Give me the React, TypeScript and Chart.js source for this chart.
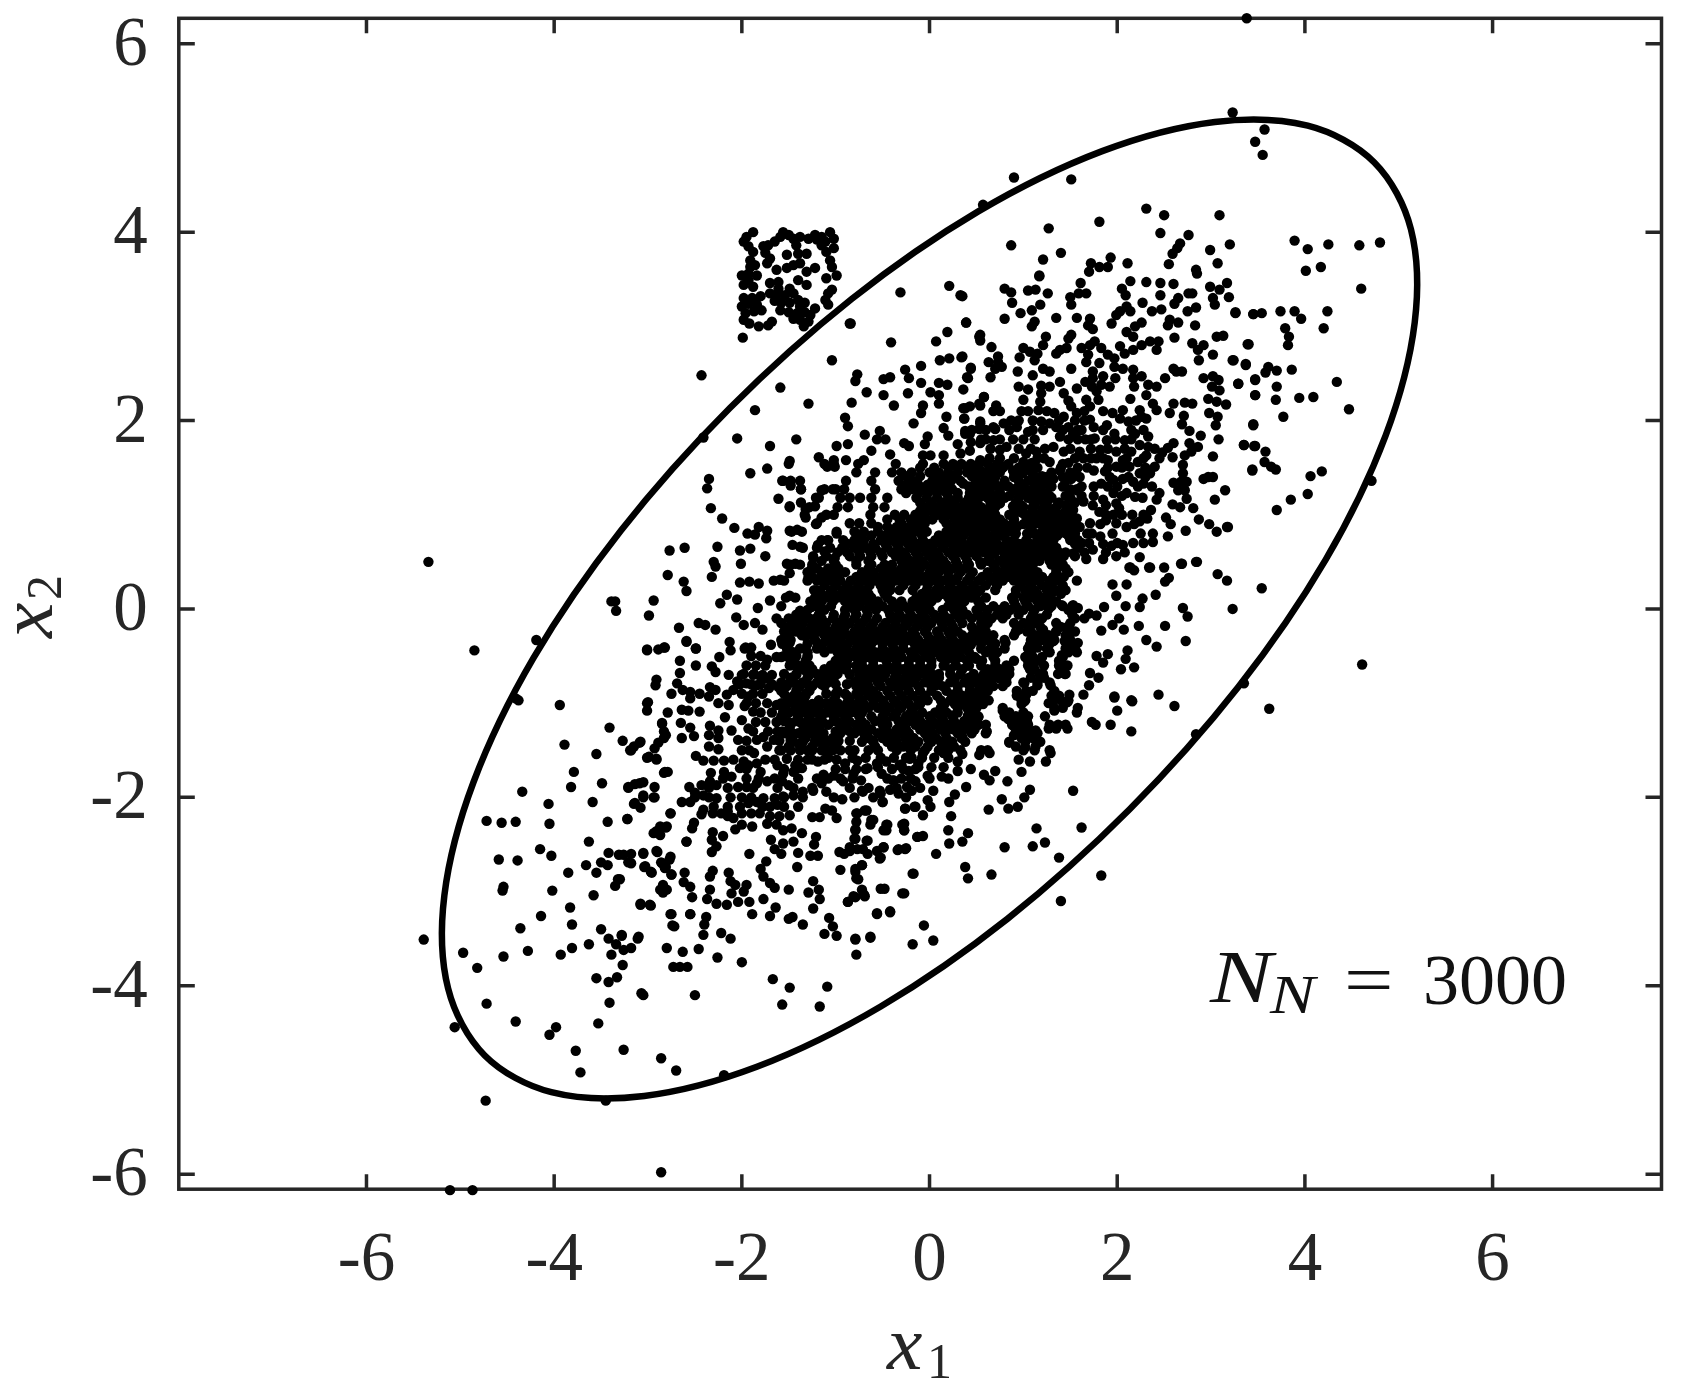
import { useEffect, useRef } from "react"
import { Chart, registerables } from "chart.js"

Chart.register(...registerables)

const xTicks = [-6, -4, -2, 0, 2, 4, 6]
const yTicks = [-6, -4, -2, 0, 2, 4, 6]

// the small square patch above the ellipse
const squareCloud = [
  [-1.88,4.00],[-1.95,3.95],[-1.98,3.90],[-1.93,3.85],[-1.88,3.79],[-1.77,3.85],[-1.72,3.86],[-1.65,3.90],[-1.59,3.95],[-1.56,4.0],[-1.5,3.97],[-1.45,3.93],[-1.38,3.95],[-1.42,3.86],[-1.29,3.93],[-1.22,3.97],[-1.15,3.95],[-1.06,4.0],[-1.02,3.93],[-1.15,3.86],[-1.1,3.79],[-1.02,3.83],[-1.11,3.90],[-1.2,3.92],
  [-1.75,3.78],[-1.7,3.72],[-1.73,3.67],[-1.91,3.7],[-1.91,3.63],[-1.86,3.65],[-1.52,3.76],[-1.4,3.77],[-1.31,3.77],[-1.38,3.67],[-1.45,3.65],[-1.52,3.62],[-1.63,3.6],[-1.22,3.62],[-1.31,3.58],[-1.06,3.7],[-1.04,3.63],[-.99,3.54],[-1.1,3.51],[-2.0,3.54],[-1.93,3.56],[-1.84,3.54],[-1.98,3.44],[-1.93,3.49],[-1.88,3.42],[-1.7,3.46],[-1.61,3.47],[-1.4,3.49],[-1.31,3.44],[-1.61,3.40],[-1.7,3.35],[-1.63,3.33],[-1.49,3.40],[-1.45,3.35],[-1.54,3.33],[-1.04,3.39],[-1.08,3.35],[-1.11,3.28],[-1.98,3.3],[-1.89,3.3],[-1.8,3.32],[-2.0,3.21],[-1.93,3.24],[-1.84,3.23],[-1.96,3.14],[-1.87,3.16],[-1.79,3.17],[-1.98,3.07],[-1.92,3.03],[-1.82,3.0],[-1.68,3.05],[-1.72,3.01],[-1.65,3.27],[-1.58,3.25],[-1.49,3.25],[-1.4,3.28],[-1.33,3.25],[-1.22,3.19],[-1.08,3.23],[-1.59,3.17],[-1.5,3.15],[-1.41,3.14],[-1.33,3.15],[-1.45,3.08],[-1.38,3.07],[-1.29,3.05],[-1.34,3.0],[-1.27,3.12],[-1.38,3.21],[-1.99,2.88],[-.85,3.03],
]

// upper left side of the cloud
const upperLeftCloud = [
  [-5.34,.50],[-4.85,-.44],[-4.19,-.33],[-4.41,-.95],[-3.35,.08],[-3.34,-.02],[-3.39,.08],[-2.94,.09],[-2.99,-.07],
  [-2.43,2.48],[-1.59,2.35],[-1.04,2.64],[-1.86,2.11],[-1.29,2.18],[-.83,2.19],[-2.05,1.81],[-2.41,1.82],[-1.70,1.73],[-1.42,1.80],[-.99,1.73],[-1.49,1.57],[-1.18,1.61],[-1.02,1.58],[-1.09,1.51],[-1.01,1.51],[-1.91,1.44],[-1.73,1.49],
  [-2.35,1.38],[-2.37,1.28],[-1.56,1.36],[-1.48,1.31],[-1.37,1.27],[-1.15,1.26],[-1.03,1.27],[-1.21,1.18],[-1.61,1.17],[-1.37,1.13],[-1.49,1.09],[-1.22,1.09],[-1.32,1.06],[-2.33,1.07],[-2.21,.96],[-1.32,.97],[-1.15,.97],[-1.21,.90],
  [-2.08,.86],[-1.82,.87],[-1.73,.83],[-1.94,.80],[-1.86,.79],[-1.74,.75],[-1.49,.83],[-1.41,.84],[-.99,.80],[-2.77,.62],[-2.61,.65],[-2.26,.66],[-2.02,.62],[-1.91,.64],[-1.46,.68],[-1.38,.66],[-1.19,.68],[-1.09,.73],[-1.12,.61],[-2.01,.48],[-1.75,.56],[-2.30,.50],[-2.28,.45],[-1.24,.54],[-1.01,.54],[-1.52,.48],[-1.43,.48],[-1.49,.38],[-2.79,.36],[-2.32,.34],[-2.62,.29],[-2.59,.19],[-1.26,.42],[-1.29,.34],[-1.18,.32],[-1.03,.41],[-2.02,.28],[-1.92,.29],[-1.82,.27],[-1.66,.30],[-1.59,.31],[-1.23,.20],[-1.01,.30],[-2.16,.15],[-2.05,.10],[-2.23,.06],[-1.70,.09],[-1.49,.14],[-1.22,.09],[-1.06,.16],[-1.26,.02],
  [-2.67,-.20],[-2.46,-.15],[-2.39,-.17],[-2.28,-.22],[-2.06,-.09],[-1.83,.01],[-1.98,-.17],[-1.86,-.15],[-1.78,-.22],[-1.63,-.10],[-1.50,-.10],[-1.38,-.02],[-1.21,-.10],[-2.59,-.34],[-2.13,-.35],[-2.49,-.42],[-3.01,-.43],[-2.83,-.41],[-1.96,-.41],[-1.69,-.38],[-1.49,-.36],[-1.32,-.29],[-1.12,-.22],[-1.01,-.36],
  [-.41,2.83],[.07,2.84],[.19,2.94],[.39,3.04],[.54,2.91],[.34,2.67],[.21,2.66],[.11,2.64],[-.09,2.58],[-.26,2.54],[-.22,2.45],[-.42,2.46],[-.49,2.44],[-.77,2.49],[-.79,2.42],[-.09,2.40],[.10,2.40],[.19,2.38],[.44,2.55],[.41,2.45],[.36,2.33],[-.67,2.30],[-.49,2.27],[-.23,2.29],[.01,2.30],[.10,2.27],[.58,2.25],[-.38,2.16],[.10,2.18],[-.07,2.16],[.38,2.13],[.53,2.18],[-.09,2.08],[.18,2.04],[.37,2.02],[-.17,1.97],[-.90,2.03],[-.87,1.94],[.54,1.99],[.53,1.91],[.15,1.92],[.20,1.84],[.38,1.89],[.70,1.91],[-.69,1.85],[-.53,1.89],[-.56,1.80],[-.47,1.80],[-.02,1.83],[-.05,1.75],[-.27,1.76],[-.22,1.73],[-.87,1.75],[.30,1.75],[.44,1.77],[.55,1.80],[-.62,1.68],[-.42,1.64],[-.07,1.63],[.01,1.63],[.15,1.63],[.33,1.65],[-.70,1.58],[-.76,1.54],[-.89,1.58],
]

// upper right side, top of the ellipse down to x2 = 0.5
const upperRightCloud = [
  [3.38,6.27],[3.23,5.27],[3.57,5.09],[3.47,4.96],[3.55,4.82],[.90,4.58],[1.51,4.56],[.57,4.29],[2.31,4.25],[2.50,4.18],[3.09,4.18],[1.81,4.11],[1.27,4.04],[2.46,3.99],[2.76,3.97],[3.89,3.91],[.87,3.86],[3.20,3.87],[2.67,3.88],[2.64,3.83],[2.99,3.81],[4.03,3.82],[4.25,3.87],[4.58,3.86],[4.80,3.89],[1.40,3.78],[2.59,3.77],[1.21,3.71],[1.93,3.73],[1.72,3.67],[1.81,3.63],[1.90,3.63],[2.11,3.67],[2.55,3.66],[3.07,3.67],[2.84,3.60],[4.01,3.59],[4.17,3.63],[-.31,3.36],[.21,3.43],[.33,3.33],[1.17,3.54],[4.60,3.40],[-.84,3.03],
  [3.74,3.16],[3.89,3.16],[3.96,3.08],[4.24,3.16],[3.54,3.14],[3.45,3.13],[3.26,3.14],[3.79,2.98],[4.20,2.98],[3.83,2.89],[3.82,2.80],[3.39,2.81],[3.23,2.64],[3.37,2.59],[3.61,2.57],[3.70,2.53],[3.86,2.54],[3.58,2.51],[3.47,2.44],[4.34,2.41],[3.29,2.39],[3.70,2.36],[3.47,2.27],[3.94,2.24],[4.09,2.25],[3.69,2.22],[4.47,2.12],[3.77,2.04],[3.45,1.95],[3.35,1.74],[3.46,1.73],[3.58,1.67],[3.57,1.56],[3.64,1.51],[3.69,1.48],[3.44,1.48],[4.18,1.46],[4.06,1.41],[4.71,1.36],[4.03,1.22],[3.85,1.16],[3.70,1.05],[3.17,.87],[3.54,.22],[3.07,.37],[3.17,.30],[3.23,.00],[4.61,-.59],[3.35,-.79],[2.73,-.34],[2.51,-.18],[2.42,-.40],[2.31,-.33],[2.70,.01],[2.75,-.08],
  [1.17,3.53],[1.61,3.46],[1.70,3.58],[.80,3.40],[.87,3.36],[1.05,3.38],[1.13,3.39],[1.26,3.35],[.35,3.32],[.88,3.25],[1.50,3.31],[1.59,3.35],[1.67,3.35],[1.51,3.23],[1.18,3.23],[1.09,3.17],[.97,3.14],[.80,3.08],[1.35,3.09],[1.57,3.09],[1.71,3.08],[1.69,3.01],[1.74,2.97],[.39,3.04],[1.12,3.05],[1.09,3.00],[.53,2.89],[.54,2.85],[1.51,2.91],[1.48,2.87],[1.24,2.89],[1.21,2.80],[.66,2.78],[1.00,2.77],[1.07,2.73],[1.15,2.71],[.96,2.67],[1.12,2.64],[1.39,2.75],[1.46,2.77],[1.35,2.71],[.35,2.68],[.73,2.68],[.63,2.62],[.73,2.62],[.77,2.57],[.70,2.55],[.44,2.56],[.65,2.46],[.40,2.46],[.94,2.52],[1.10,2.48],[1.21,2.55],[1.28,2.52],[1.51,2.55],
  [1.62,2.77],[1.71,2.80],[1.76,2.84],[1.83,2.77],[1.69,2.70],[1.67,2.62],[1.90,2.70],[1.97,2.66],[1.97,2.57],[2.06,2.55],[1.81,2.61],[1.74,2.52],[1.66,2.41],[1.74,2.45],[1.85,2.47],[1.98,2.45],[1.92,2.36],[1.78,2.31],[1.73,2.36],[1.83,2.38],[1.80,2.22],[1.67,2.22],[1.71,2.15],
  [2.14,3.48],[2.31,3.47],[2.46,3.46],[2.60,3.45],[2.05,3.40],[2.09,3.33],[2.46,3.33],[2.27,3.25],[2.10,3.21],[2.14,3.16],[2.03,3.16],[1.99,3.12],[2.37,3.16],[2.47,3.18],[2.65,3.30],[2.61,3.24],[2.76,3.35],[2.80,3.35],[2.85,3.56],[2.99,3.42],[3.09,3.39],[3.17,3.46],[3.19,3.31],[3.02,3.30],[3.04,3.23],[2.75,3.16],[2.84,3.20],[3.26,3.15],[3.45,3.13],[1.94,3.03],[2.26,3.04],[2.19,3.00],[2.56,3.07],[2.54,3.01],[2.65,3.04],[2.83,3.01],[2.10,2.94],[2.17,2.89],[2.61,2.88],[3.06,2.89],[3.13,2.90],[2.03,2.79],[2.08,2.71],[2.17,2.75],[2.26,2.80],[2.35,2.84],[2.44,2.84],[2.42,2.75],[2.80,2.82],[2.92,2.80],[2.86,2.75],[3.40,2.81],[3.02,2.70],[2.87,2.64],[3.24,2.64],[3.37,2.60],[2.60,2.55],[2.69,2.52],[2.63,2.52],[2.17,2.54],[2.26,2.47],[2.17,2.45],[2.18,2.36],[2.51,2.45],[2.42,2.36],[2.33,2.38],[2.31,2.27],[2.92,2.45],[3.02,2.47],[3.08,2.43],[3.47,2.43],[3.29,2.39],[3.01,2.36],[3.09,2.32],[3.47,2.27],[2.97,2.23],[3.06,2.20],[3.16,2.17],[2.14,2.23],[2.38,2.18],[2.42,2.11],[2.60,2.18],[2.56,2.08],[2.72,2.19],[2.80,2.18],[2.71,2.05],[2.69,1.96],[2.98,2.08],[3.07,2.04],[3.05,1.95],[3.45,1.96],[1.95,2.08],[2.06,2.11],[2.12,1.99],[2.03,2.02],[2.24,2.11],[2.26,2.04],[2.31,2.02],[2.77,1.89],[2.89,1.84],[3.08,1.80],[3.35,1.74],[3.47,1.73],[2.77,1.76],[2.86,1.72],[2.60,1.76],[2.54,1.71],[2.48,1.66],[2.59,1.61],[2.79,1.67],[2.72,1.63],[3.02,1.62],[2.70,1.53],[2.70,1.44],[3.44,1.47],[2.97,1.40],[3.02,1.40],[2.92,1.38],[2.60,1.34],[2.68,1.35],[2.74,1.35],[2.65,1.26],[2.72,1.26],[3.15,1.26],[3.04,1.16],[2.74,1.17],[2.45,1.23],[2.42,1.16],[2.59,1.11],[2.67,1.08],[2.81,1.07],[2.52,.97],[2.57,.90],[2.87,.95],[2.98,.90],[3.06,.82],[3.18,.87],[2.73,.83],[2.54,.77],[2.38,.80],[2.38,.71],[2.24,.55],[2.84,.50],[2.69,.48],[2.50,.44],[2.35,.44],[2.14,.44],
  [.95,2.36],[1.05,2.33],[1.19,2.37],[1.19,2.29],[1.18,2.20],[1.16,2.11],[1.28,2.36],[1.39,2.41],[1.43,2.29],[1.57,2.34],[1.48,2.21],[1.51,2.15],[1.57,2.08],[1.00,2.22],[.98,2.10],[.58,2.25],[.54,2.16],[.43,2.15],[.36,2.13],[.71,2.16],[.68,2.10],[.75,2.10],[.54,1.97],[.37,2.02],[.68,1.93],[.79,1.97],[.87,2.00],[.93,1.93],[.38,1.86],[.43,1.86],[1.05,1.88],[1.12,1.80],[1.21,1.90],[1.28,1.97],[1.33,2.08],[1.43,2.04],[1.35,1.93],[1.48,1.93],[1.19,1.99],[1.71,2.01],[1.75,1.93],[1.62,1.90],[1.53,1.86],[1.66,1.80],[1.76,1.81],[1.89,1.95],[1.97,1.86],[1.89,1.79],[2.08,1.79],[2.19,1.86],[2.33,1.83],[2.24,1.74],[2.33,1.72],[2.31,1.63],[2.40,1.51],[2.06,1.58],[1.99,1.67],[2.15,1.67],[2.22,1.56],[2.35,1.44],[2.24,1.44],[2.13,1.51],[1.99,1.51],[1.90,1.58],[1.82,1.69],[1.78,1.60],[1.87,1.46],[1.75,1.47],[1.83,1.33],[1.96,1.37],[2.06,1.38],[2.17,1.35],[2.28,1.33],[2.37,1.30],[2.10,1.23],[2.19,1.19],[2.27,1.18],[1.96,1.23],[1.85,1.16],[1.99,1.12],[2.02,1.07],[1.96,1.00],[2.16,1.00],[2.36,1.05],[2.32,.96],[2.24,.93],[2.10,.87],[1.99,.91],[1.88,.94],[1.81,1.03],[1.74,1.10],[1.64,1.14],[1.53,1.05],[1.71,.91],[1.57,.96],[1.46,.91],[1.35,.98],[1.37,1.12],[1.21,1.14],[1.10,1.15],[1.32,.91],
  [1.55,1.44],[1.51,1.38],[1.50,1.26],[1.57,1.26],[1.39,1.47],[1.32,1.38],[1.18,1.40],[1.18,1.28],[1.28,1.31],[1.48,1.55],[1.43,1.67],[1.60,1.67],[1.64,1.60],[1.28,1.56],[1.23,1.70],[1.32,1.72],[1.00,1.56],[1.03,1.65],[1.14,1.67],[1.09,1.55],[1.39,1.83],[.89,1.80],[.82,1.72],[.75,1.69],[.68,1.79],[.54,1.76],[.43,1.68],[.54,1.58],[.64,1.60],[.79,1.51],[.89,1.47],[.99,1.44],[.68,1.47],[.54,1.47],[.43,1.47],[.36,1.33],[.50,1.37],[.61,1.44],[.75,1.30],[.84,1.30],[.96,1.20],[.43,1.23],[.54,1.19],[.64,1.26],[.75,1.12],[.89,1.09],[.99,1.02],[1.18,.93],[1.09,.97],[.43,1.09],[.57,1.05],[.68,.98],[.79,.91],[.93,.87],[1.04,.80],[1.18,.80],[1.32,.73],[1.46,.80],[1.58,.73],[1.74,.63],[1.85,.69],[1.94,.67],[2.06,.68],[2.17,.70],[1.99,.56],[1.67,.53],[1.53,.59],[1.39,.52],[1.25,.59],[1.11,.50],[.96,.56],[.82,.50],[.68,.59],[.54,.50],[.39,.59],[.43,.84],[.57,.80],[.68,.77],[.93,.66],[.79,.66],[.54,.66],[.32,.77],[1.73,.80],[1.82,.77],[1.60,.87],[1.85,.53],
  [2.85,.50],[2.68,.48],[2.34,.44],[2.18,.41],[2.55,.33],[2.51,.29],[2.13,.44],[2.41,.15],[2.27,.11],[2.24,.02],[2.09,.03],[1.95,.26],[2.10,.26],[1.99,.14],[1.86,.02],[1.78,-.07],[2.02,-.10],[1.95,-.17],[1.83,-.23],[2.07,-.22],[2.23,-.18],[1.70,-.05],[1.58,.01],[1.41,.04],[1.53,.04],[1.65,-.10],[1.47,-.19],[1.55,-.24],[1.35,-.24],[1.32,-.34],[1.58,-.36],[1.44,-.34],[1.57,-.46],[1.41,-.49],[1.27,-.45],[1.78,-.50],[1.90,-.48],[2.11,-.44],[2.09,-.53],[1.85,-.57],[2.04,-.64],[2.18,-.62],[1.38,-.60],[1.44,-.69],[1.71,-.68],[1.80,-.73],[1.70,-.81],[1.64,-.91],[1.49,-.91],[2.44,-.91],[1.97,-.93],[2.15,-.97],[1.29,-.81],[1.15,-.81],[1.21,-.69],[1.07,-.64],[1.01,-.79],[1.03,-.91],[.93,-.92],[1.38,-.92],
]

// lower right side
const lowerRightCloud = [
  [3.62,-1.06],[2.61,-1.03],[2.15,-1.30],[2.16,-.98],[2.00,-1.08],[1.97,-.94],[1.93,-1.23],[1.77,-1.23],[1.73,-1.20],[1.57,-1.10],[1.47,-1.27],[1.35,-1.27],[1.27,-1.27],[1.33,-1.08],[1.27,-1.00],[1.47,-.99],[1.04,-1.20],[1.04,-1.29],[1.13,-1.29],[.98,-1.29],[.90,-1.34],[.78,-1.08],[.84,-1.17],[.90,-1.24],[1.01,-.98],[.61,-1.30],[.52,-1.15],[.41,-1.27],[.35,-1.36],[.41,-1.13],[.24,-1.27],[.24,-1.13],[.24,-1.41],[1.18,-1.41],[.85,-1.42],[1.13,-1.46],[1.02,-1.47],[1.29,-1.53],[1.24,-1.62],[1.07,-1.62],[.95,-1.60],[.98,-1.73],[.70,-1.72],[.58,-1.76],[.64,-1.82],[.83,-1.83],[.64,-1.53],[.53,-1.55],[.35,-1.54],[.30,-1.62],[.44,-1.70],[.30,-1.72],[.39,-1.89],[.13,-1.47],[.15,-1.53],[-.07,-1.53],[-.19,-1.58],[-.02,-1.77],[.13,-1.78],[-.22,-1.72],[-.30,-1.65],[1.53,-1.93],[1.07,-1.92],[1.01,-2.0],[.77,-2.02],[.84,-2.12],[.94,-2.10],[.63,-2.13],[.27,-1.97],[.21,-2.05],[.04,-1.93],[-.02,-2.03],[-.16,-2.10],[-.26,-2.12],[.01,-2.10],[-.07,-2.19],[.23,-2.20],[-.50,-2.05],[-.53,-1.93],[-.33,-1.96],[-.19,-1.93],[-.39,-1.82],[-.72,-1.93],[-.67,-2.14],[-.77,-2.17],[-.62,-2.24],[-.79,-2.34],[-.45,-2.29],[-.46,-2.35],[-.29,-2.29],[-.27,-2.35],[-.07,-2.41],[-.13,-2.42],[.20,-2.35],[.41,-2.38],[.35,-2.47],[.21,-2.49],[1.62,-2.32],[1.14,-2.33],[1.23,-2.48],[1.10,-2.52],[.80,-2.53],[.07,-2.60],[-.26,-2.55],[-.34,-2.56],[-.49,-2.53],[-.56,-2.57],[-.53,-2.65],[-.67,-2.46],[-.71,-2.55],[-.80,-2.44],[-.85,-2.57],[1.38,-2.64],[1.83,-2.83],[.38,-2.74],[.41,-2.86],[.66,-2.82],[-.17,-2.81],[-.72,-2.72],[-.79,-2.79],[-.76,-2.87],[-.52,-2.97],[-.29,-3.02],[-.70,-3.03],[-.79,-3.06],[-.87,-3.11],[1.40,-3.10],[-.56,-3.24],[-.42,-3.22],[-.06,-3.36],[.04,-3.52],[-.79,-3.51],[-.63,-3.49],[-.18,-3.56],[-.78,-3.67],[2.84,-1.33],
  [.95,-.22],[1.04,-.24],[1.21,-.22],[1.07,-.38],[1.15,-.41],[1.04,-.50],[1.13,-.55],[.85,-.64],[.90,-.55],[.75,-.74],[.60,-.69],[.81,-.36],[.55,-.31],[.67,-.45],[.44,-.38],[.50,-.53],[.30,-.38],[.41,-.60],[.27,-.74],[.07,-.81],[.44,-.91],[.24,-.91],[.64,-.83],[1.17,-.10],[1.27,-.00],
]

// lower left side
const lowerLeftCloud = [
  [-4.38,-.97],[-3.94,-1.02],[-3.41,-1.26],[-3.27,-1.40],[-3.09,-1.42],[-3.89,-1.44],[-3.18,-1.50],[-3.55,-1.54],[-3.79,-1.73],[-3.82,-1.89],[-3.49,-1.85],[-4.34,-1.94],[-3.59,-2.05],[-4.06,-2.07],[-4.05,-2.28],[-4.72,-2.25],[-4.56,-2.27],[-4.41,-2.26],[-3.43,-2.26],[-3.63,-2.47],[-4.15,-2.55],[-4.03,-2.62],[-4.59,-2.66],[-4.39,-2.67],[-3.42,-2.59],[-3.66,-2.72],[-3.50,-2.69],[-3.43,-2.72],[-3.55,-2.80],[-3.85,-2.80],[-3.32,-2.87],[-3.35,-2.94],[-4.54,-2.95],[-4.55,-2.99],[-4.02,-2.99],[-3.58,-3.04],[-3.83,-3.17],[-4.14,-3.26],[-3.81,-3.35],[-4.36,-3.39],[-3.50,-3.40],[-5.39,-3.51],[-3.42,-3.50],[-3.28,-3.47],[-3.63,-3.56],[-3.81,-3.60],[-4.97,-3.65],[-4.28,-3.63],[-4.54,-3.69],[-3.93,-3.67],[-3.34,-3.56],[-3.26,-3.62],[-3.18,-3.60],[-3.39,-3.67],[-3.27,-3.78],[-3.11,-3.50],[-4.82,-3.81],[-2.80,-3.60],[-2.63,-3.64],[-2.46,-3.61],[-2.26,-3.70],[-2.00,-3.75],[-2.73,-3.80],[-2.66,-3.80],[-2.58,-3.80],[-3.55,-3.92],[-3.33,-3.91],[-3.42,-3.96],[-1.67,-3.93],[-1.49,-4.02],[-1.09,-4.01],[-3.07,-4.08],[-3.05,-4.10],[-2.50,-4.10],[-3.41,-4.18],[-4.72,-4.19],[-1.57,-4.20],[-1.17,-4.22],[-4.41,-4.38],[-5.06,-4.44],[-3.53,-4.40],[-3.98,-4.44],[-4.05,-4.52],[-3.77,-4.69],[-3.26,-4.68],[-2.86,-4.77],[-2.70,-4.90],[-3.72,-4.92],[-2.19,-4.95],[-4.73,-5.22],[-3.45,-5.22],[-2.86,-5.98],[-5.11,-6.17],[-4.87,-6.17],
  [-3.01,-1.00],[-3.01,-1.08],[-2.79,-1.10],[-2.85,-1.22],[-2.81,-1.34],[-2.89,-1.42],[-3.01,-1.58],[-2.91,-1.60],[-3.21,-1.90],[-3.09,-1.85],[-2.93,-1.89],[-3.05,-2.0],[-2.93,-2.00],[-3.15,-2.07],[-3.08,-2.11],[-3.22,-2.23],[-2.82,-1.73],[-2.76,-2.17],[-2.91,-2.36],[-2.81,-2.32],[-3.05,-2.60],[-3.31,-2.61],[-3.18,-2.60],[-3.21,-2.69],[-2.91,-2.57],[-3.03,-2.73],[-2.96,-2.80],[-2.86,-2.69],[-2.76,-2.63],[-2.81,-2.74],[-2.75,-2.82],[-2.87,-2.98],[-2.80,-2.98],[-3.08,-3.14],[-2.97,-3.15],[-2.75,-3.24],[-2.72,-3.37],[-2.55,-3.24],[-2.59,-2.47],
  [-3.01,-.44],[-2.89,-.43],[-2.82,-.41],[-2.59,-.35],[-2.49,-.42],[-2.12,-.44],[-1.97,-.42],[-1.90,-.41],[-2.66,-.55],[-2.49,-.60],[-2.32,-.61],[-2.28,-.67],[-2.24,-.51],[-2.66,-.68],[-2.14,-.70],[-2.91,-.75],[-2.92,-.81],[-2.69,-.79],[-2.75,-.90],[-2.63,-.86],[-2.55,-.88],[-2.55,-.95],[-2.45,-.90],[-2.34,-.83],[-2.28,-.86],[-2.35,-.93],[-3.00,-.99],[-2.57,-1.08],[-2.64,-1.07],[-2.45,-1.09],[-2.25,-1.00],[-2.14,-1.02],[-2.16,-.91],[-2.09,-.86],[-1.97,-1.03],[-1.98,-.69],[-1.87,-.69],[-1.80,-.72],[-2.05,-.77],[-1.95,-.79],[-1.84,-.81],[-1.73,-.74],[-1.61,-.83],[-1.71,-.84],[-1.93,-.93],[-1.73,-1.00],[-1.63,-1.02],[-1.52,-.98],[-1.56,-1.09],[-1.73,-.54],[-1.63,-.51],[-1.49,-.45],[-1.43,-.58],[-1.33,-.65],[-1.49,-.60],
  [-2.85,-1.21],[-2.65,-1.21],[-2.55,-1.26],[-2.51,-1.35],[-2.64,-1.37],[-2.83,-1.30],[-2.83,-1.37],[-2.93,-1.48],[-2.91,-1.59],[-2.99,-1.57],[-3.08,-1.41],[-3.15,-1.46],[-3.19,-1.50],[-2.34,-1.24],[-2.35,-1.34],[-2.25,-1.29],[-2.25,-1.37],[-2.18,-1.15],[-2.11,-1.29],[-2.00,-1.18],[-2.04,-1.39],[-1.88,-1.09],[-1.93,-1.27],[-1.88,-1.30],[-1.77,-1.36],[-1.84,-1.39],[-1.57,-1.30],[-1.66,-1.39],[-1.73,-1.46],[-2.35,-1.46],[-2.25,-1.49],[-2.49,-1.56],[-2.41,-1.61],[-2.30,-1.61],[-2.19,-1.61],[-2.09,-1.60],[-1.98,-1.62],[-1.87,-1.53],[-1.84,-1.64],
  [-1.30,-1.60],[-1.19,-1.62],[-1.08,-1.58],[-.99,-1.60],[-.90,-1.64],[-.77,-1.61],[-.66,-1.69],[-.56,-1.64],[-.46,-1.62],[-.32,-1.66],[-.21,-1.59],[-.12,-1.64],[-2.83,-1.74],[-2.79,-1.73],[-2.33,-1.74],[-2.19,-1.73],[-2.11,-1.78],[-2.02,-1.69],[-1.93,-1.66],[-2.04,-1.89],[-1.95,-1.89],[-1.80,-1.73],[-1.84,-1.85],[-1.73,-1.83],[-1.62,-1.66],[-1.52,-1.59],[-1.43,-1.66],[-1.36,-1.69],[-1.56,-1.75],[-1.45,-1.73],[-1.57,-1.83],[-1.50,-1.87],[-1.13,-1.76],[-1.02,-1.77],[-.92,-1.83],[-.81,-1.75],[-.73,-1.82],[-.51,-1.75],[-.38,-1.82],[-.24,-1.89],[-.15,-1.83],[-.42,-1.92],[-.52,-1.96],[-.71,-1.94],[-1.15,-1.85],[-1.10,-1.94],[-1.02,-2.0],[-.93,-2.02],[-1.24,-1.93],[-1.35,-1.94],[-3.21,-1.89],[-3.14,-1.86],[-3.05,-1.84],[-3.05,-1.98],[-2.94,-2.00],[-3.14,-2.06],
  [-2.56,-1.89],[-2.43,-1.87],[-2.34,-1.83],[-2.27,-1.87],[-2.50,-1.95],[-2.41,-1.98],[-2.64,-2.05],[-2.55,-2.05],[-2.27,-2.01],[-2.12,-2.00],[-2.02,-2.10],[-1.93,-2.06],[-1.84,-2.05],[-1.65,-2.01],[-1.56,-1.99],[-1.45,-1.98],[-1.77,-2.01],[-1.90,-2.17],[-1.81,-2.17],[-1.70,-2.10],[-1.62,-2.08],[-2.41,-2.13],[-2.43,-2.18],[-2.31,-2.17],[-2.22,-2.17],[-2.15,-2.15],[-2.09,-2.22],[-2.00,-2.17],[-1.49,-2.19],[-1.11,-2.12],[-1.04,-2.14],[-.99,-2.22],[-1.25,-2.21],[-1.17,-2.21],[-.69,-2.14],[-.78,-2.17],[-.50,-2.05],[-.26,-2.12],[-.15,-2.10],
  [-2.76,-2.17],[-3.22,-2.23],[-2.51,-2.27],[-2.53,-2.33],[-2.07,-2.34],[-2.00,-2.29],[-1.89,-2.31],[-1.73,-2.28],[-1.63,-2.29],[-1.56,-2.35],[-1.47,-2.33],[-1.36,-2.38],[-.60,-2.24],[-.78,-2.26],[-.79,-2.35],[-.63,-2.29],[-.46,-2.29],[-.49,-2.35],[-.27,-2.28],[-.27,-2.35],[-.13,-2.42],[-2.87,-2.31],[-2.80,-2.31],[-2.94,-2.38],[-2.87,-2.40],[-2.59,-2.47],[-2.31,-2.37],[-2.32,-2.45],[-2.20,-2.41],[-2.27,-2.52],[-2.32,-2.58],[-1.69,-2.45],[-1.56,-2.49],[-1.45,-2.47],[-1.65,-2.55],[-1.58,-2.60],[-1.40,-2.59],[-1.21,-2.42],[-1.23,-2.50],[-1.27,-2.62],[-1.19,-2.62],[-.79,-2.44],[-.66,-2.46],[-.85,-2.53],[-.96,-2.58],[-.91,-2.60],[-.77,-2.55],[-.66,-2.60],[-.49,-2.53],[-.52,-2.64],[-.33,-2.55],[-.25,-2.54],
  [-1.92,-2.60],[-3.05,-2.59],[-3.26,-2.61],[-3.18,-2.70],[-2.90,-2.58],[-2.77,-2.66],[-2.85,-2.70],[-2.82,-2.75],[-3.04,-2.74],[-2.97,-2.79],[-2.75,-2.82],[-1.74,-2.68],[-1.80,-2.76],[-1.77,-2.84],[-1.70,-2.91],[-1.65,-2.96],[-1.41,-2.74],[-.95,-2.77],[-.72,-2.72],[-.79,-2.76],[-.78,-2.86],[-.18,-2.81],[-2.61,-2.80],[-2.62,-2.90],[-2.55,-2.95],[-2.31,-2.78],[-2.34,-2.84],[-2.14,-2.80],[-2.12,-2.89],[-2.07,-2.93],[-1.95,-2.93],[-1.98,-3.00],[-2.84,-2.93],[-2.84,-3.01],[-2.34,-2.98],[-2.11,-3.02],[-1.50,-2.98],[-1.24,-2.89],[-1.29,-3.01],[-1.18,-2.98],[-.48,-2.97],[-.27,-3.02],[-.72,-2.98],[-.69,-3.05],[-.81,-3.05],[-.87,-3.11],[-3.30,-2.87],
  [-3.08,-3.13],[-2.98,-3.14],[-2.53,-3.06],[-2.37,-3.08],[-2.27,-3.13],[-2.16,-3.14],[-2.04,-3.11],[-1.92,-3.11],[-1.77,-3.08],[-1.17,-3.08],[-1.24,-3.18],[-1.64,-3.17],[-1.70,-3.26],[-1.89,-3.24],[-2.55,-3.24],[-2.76,-3.24],[-2.38,-3.27],[-.56,-3.23],[-.42,-3.21],[-2.74,-3.36],[-2.40,-3.35],[-1.50,-3.29],[-1.46,-3.27],[-1.35,-3.35],[-1.07,-3.28],[-1.03,-3.37],[-1.12,-3.45],[-.99,-3.47],[-.79,-3.50],[-.63,-3.48],[-3.28,-3.46],[-3.10,-3.48],[-2.41,-3.46],[-2.22,-3.44],[-2.12,-3.50],
]

// dense middle, read row by row: [x2, x1, x1, ...]
const coreRows = [
  [1.54,-1.50,-1.12,-1.02,-.36,-.07,.15,.25,.34,.44,.53,.62,.72,.84,1.00,1.42],
  [1.45,-.78,-.58,-.40,-.30,-.19,0,.1,.2,.3,.4,.5,.6,.75,.9,1.0,1.09,1.3,1.5],
  [1.36,-1.57,-1.48,-1.38,-.89,-.62,-.33,-.18,.03,.13,.23,.33,.50,.62,.80,.95,1.05,1.15,1.25,1.45],
  [1.27,-1.37,-1.12,-1.0,-.91,-.58,-.30,-.2,-.07,.03,.13,.24,.44,.55,.75,.90,1.02,1.1,1.5,1.57],
  [1.18,-1.18,-.95,-.85,-.74,-.62,-.45,-.14,-.03,.08,.2,.3,.42,.5,.62,.7,.8,.95,1.05,1.18,1.3,1.5],
  [1.08,-1.49,-1.28,-.98,-.87,-.6,-.48,-.05,.08,.2,.32,.45,.55,.7,.9,1.0,1.1,1.22,1.35,1.5],
  [1.0,-1.33,-1.02,-1.1,-.63,-.37,-.27,-.15,-.05,.08,.2,.32,.42,.58,.7,.85,1.02,1.15,1.27,1.4,1.5],
  [.91,-1.2,-.85,-.62,-.75,-.3,-.18,-.05,.18,.33,.45,.55,.67,.78,.9,1.02,1.15,1.3,1.42,1.55],
  [.82,-1.47,-1.36,-.99,-.8,-.7,-.55,-.4,-.27,-.15,-.03,.18,.3,.42,.55,.7,.78,.88,1.1,1.2,1.3,1.42,1.53],
  [.73,-1.15,-1.08,-.92,-.8,-.7,-.52,-.4,-.28,-.18,-.07,.06,.17,.3,.45,.55,.67,.82,.9,1.03,1.15,1.25,1.5,1.58],
  [.65,-1.35,-1.2,-1.06,-.93,-.8,-.68,-.58,-.45,-.33,-.2,-.08,.03,.15,.28,.4,.52,.65,.77,.9,1.02,1.12,1.22,1.35,1.58],
  [.56,-1.24,-1.1,-.85,-.74,-.62,-.5,-.36,-.25,-.12,0,.1,.25,.38,.5,.65,.8,.9,1.0,1.1,1.2,1.32,1.43,1.55],
  [.47,-1.48,-1.38,-1.25,-1.0,-.78,-.62,-.48,-.4,-.27,-.16,-.05,.07,.18,.3,.42,.55,.68,.8,.92,1.02,1.1,1.3,1.42],
  [.39,-1.3,-1.15,-1.02,-.9,-.72,-.6,-.47,-.35,-.25,-.12,0,.1,.2,.33,.46,.62,.76,.9,1.02,1.15,1.35,1.48],
  [.30,-1.55,-1.3,-1.2,-1.05,-.95,-.84,-.7,-.57,-.47,-.36,-.22,-.1,.03,.15,.27,.4,.52,.65,.78,.9,1.03,1.15,1.28,1.38,1.57],
  [.20,-1.2,-1.05,-.93,-.82,-.7,-.5,-.42,-.32,-.18,-.03,.07,.18,.3,.42,.54,.7,.92,1.02,1.12,1.25,1.35,1.45],
  [.12,-1.53,-1.43,-1.22,-1.1,-.98,-.85,-.72,-.62,-.45,-.14,-.05,.08,.2,.3,.45,.6,.88,1.0,1.1,1.2,1.27],
  [.03,-1.58,-1.2,-1.05,-.85,-.75,-.62,-.5,-.38,-.27,-.15,-.05,.2,.32,.55,.68,.8,.92,1.05,1.18,1.3,1.42,1.52],
  [-.06,-1.42,-1.32,-1.18,-1.02,-.9,-.78,-.66,-.42,-.32,-.2,-.08,.05,.15,.28,.4,.52,.6,.72,.82,.95,1.1,1.25,1.52],
  [-.15,-1.58,-1.45,-1.35,-1.22,-1.1,-.98,-.85,-.72,-.6,-.47,-.36,-.23,-.1,.02,.13,.23,.35,.55,.62,.9,1.0,1.12,1.35,1.5],
  [-.24,-1.55,-1.42,-1.3,-1.18,-1.05,-.95,-.8,-.68,-.55,-.42,-.32,-.18,-.05,.08,.2,.3,.48,.6,.92,1.08,1.2,1.35,1.52],
  [-.33,-1.58,-1.48,-1.22,-1.08,-.95,-.8,-.68,-.58,-.45,-.33,-.22,-.12,.02,.13,.25,.38,.5,.62,.8,1.08,1.2,1.33,1.5],
  [-.42,-1.52,-1.38,-1.2,-1.05,-.93,-.78,-.65,-.5,-.38,-.28,-.12,0,.12,.22,.35,.55,.65,.8,1.05,1.25,1.45,1.55],
  [-.51,-1.58,-1.45,-1.3,-.95,-.78,-.65,-.52,-.4,-.3,-.15,-.02,.12,.22,.33,.48,.68,1.02,1.1,1.2,1.42],
  [-.6,-1.3,-1.05,-.95,-.88,-.72,-.6,-.45,-.35,-.22,-.1,.02,.15,.28,.42,.55,.7,.82,1.05,1.22,1.42,1.47],
  [-.69,-1.55,-1.42,-1.2,-1.08,-.98,-.85,-.7,-.58,-.47,-.35,-.22,-.1,.02,.1,.22,.33,.47,.58,.7,.82,.85,1.17,1.37,1.45],
  [-.78,-1.58,-1.45,-1.35,-1.2,-1.08,-.8,-.68,-.55,-.42,-.3,-.18,-.05,.05,.22,.37,.5,.62,.82,1.0,1.15,1.28],
  [-.87,-1.58,-1.42,-1.28,-.98,-.72,-.6,-.45,-.33,-.22,-.1,.02,.18,.3,.43,.52,.62,.93,1.03,1.1,1.33],
  [-.97,-1.5,-1.38,-1.18,-1.02,-.85,-.72,-.6,-.5,-.38,-.25,-.12,-.02,.12,.22,.3,.42,.52,.63,.98,1.02,1.32,1.4,1.48],
  [-1.05,-1.55,-1.43,-1.3,-1.18,-1.05,-.92,-.78,-.65,-.55,-.43,-.3,-.17,.12,.3,.4,.5,.78,1.33,1.42,1.58],
  [-1.14,-1.58,-1.4,-1.28,-1.15,-1.02,-.9,-.75,-.62,-.5,-.38,-.25,-.12,0,.12,.25,.42,.52,.8,.92,1.05,1.23],
  [-1.23,-1.48,-1.35,-1.22,-1.08,-.95,-.78,-.68,-.5,-.45,-.28,-.15,-.05,.08,.2,.3,.4,.52,.6,.88,.95,1.05,1.28,1.37,1.45],
  [-1.32,-1.55,-1.4,-1.25,-1.13,-.95,-.8,-.7,-.55,-.42,-.3,-.22,-.05,.03,.17,.3,.45,.6,.95,1.05,1.15],
  [-1.41,-1.45,-1.35,-1.2,-1.08,-.98,-.72,-.6,-.45,-.35,-.22,-.12,.02,.12,.22,.38,.85,1.02,1.15],
  [-1.5,-1.58,-1.3,-1.15,-1.03,-.85,-.55,-.35,-.2,-.05,.1,.2,.33,.55,.62,1.0,1.12,1.28],
]

// second pass over the dense middle, between the rows above, keeping the holes open
const coreGapRows = [
  [1.50,-.1,.05,.2,.3,.4,.5,.65,.78,.95],
  [1.41,-.25,-.1,.08,.18,.28,.45,.56,.68,1.12,1.2],
  [1.32,-.25,-.12,-.02,.08,.18,.48,.58,.7,1.0,1.12,1.2],
  [1.23,-.25,-.12,-.02,.08,.18,.3,.48,.6,.75,.95,1.05,1.16,1.25],
  [1.13,-.1,.02,.14,.26,.38,.5,.65,.75,.92,1.12,1.25,1.38,1.55],
  [1.04,-.1,.03,.15,.27,.38,.5,.63,.97,1.1,1.2,1.3,1.45],
  [.95,-.45,-.32,-.2,-.1,.03,.15,.27,.38,.5,.63,.75,.9,1.08,1.2,1.35,1.5],
  [.87,-.55,-.45,-.35,-.22,-.1,.26,.38,.5,.62,.75,.85,1.08,1.22,1.35,1.48],
  [.78,-.75,-.62,-.47,-.33,-.2,-.08,.1,.24,.36,.48,.62,.75,1.15,1.25,1.36,1.48],
  [.69,-.87,-.75,-.6,-.47,-.35,-.23,-.12,0,.12,.24,.36,.5,.6,.72,.86,.96,1.08,1.2,1.3,1.55],
  [.60,-.98,-.88,-.75,-.63,-.52,-.4,-.28,-.15,-.03,.08,.2,.32,.45,.58,.7,.83,.95,1.05,1.15,1.27,1.38],
  [.51,-1.15,-1.02,-.78,-.65,-.3,-.2,-.08,.04,.15,.28,.4,.62,.74,.86,.97,1.06,1.17,1.28,1.38],
  [.43,-1.2,-1.08,-.97,-.65,-.52,-.42,-.3,-.2,-.1,.02,.14,.25,.38,.7,.84,.95,1.08,1.35,1.45],
  [.34,-1.25,-1.1,-.98,-.78,-.65,-.52,-.41,-.3,-.17,-.05,.08,.2,.3,.43,.56,.7,.84,.96,1.08,1.2,1.32,1.43],
  [.25,-1.12,-1,-.88,-.76,-.64,-.52,-.42,-.28,-.15,-.02,.1,.22,.35,.47,.6,.72,.97,1.08,1.2,1.3,1.42],
  [.16,-1.15,-1.02,-.9,-.78,-.65,-.48,-.08,.02,.14,.25,.36,.5,.92,1.05,1.15,1.3,1.4],
  [.08,-1.27,-1.15,-1.03,-.9,-.78,-.67,-.55,-.4,-.3,-.18,-.08,.02,.25,.37,.52,.9,1.02,1.15,1.25,1.35],
  [-.01,-1.3,-1.12,-.9,-.8,-.67,-.57,-.44,-.33,-.22,-.1,0,.14,.26,.35,.5,.62,.74,.86,1,1.12,1.48],
  [-.10,-1.4,-1.28,-1.15,-1.03,-.92,-.8,-.68,-.56,-.4,-.28,-.16,-.04,.08,.2,.32,.45,.55,.66,.78,1.08,1.2,1.55],
  [-.19,-1.5,-1.38,-1.26,-1.14,-1,-.9,-.76,-.63,-.5,-.38,-.27,-.14,-.02,.14,.25,.45,.55,.95,1.06,1.18,1.4],
  [-.28,-1.5,-1.36,-1.24,-1.12,-1,-.87,-.74,-.62,-.5,-.38,-.27,-.15,-.02,.1,.22,.35,.45,.56,.68,.9,1.15,1.27,1.45],
  [-.37,-1.57,-1.3,-1.14,-1,-.87,-.72,-.62,-.5,-.4,-.28,-.16,-.05,.08,.18,.3,.44,.55,.7,1.12,1.28,1.5],
  [-.46,-1.45,-1.3,-1.12,-.98,-.85,-.72,-.58,-.45,-.33,-.2,-.06,.06,.17,.28,.42,.6,.72,1.08,1.28,1.48],
  [-.55,-1.48,-1.32,-1.0,-.88,-.72,-.6,-.46,-.35,-.22,-.1,.02,.17,.27,.4,.56,.7,1.05,1.15,1.38],
  [-.64,-1.4,-1.25,-1.12,-1.02,-.9,-.77,-.64,-.52,-.4,-.28,-.15,-.03,.22,.35,.62,.75,1.12,1.42],
  [-.73,-1.48,-1.3,-1.12,-1.02,-.75,-.62,-.5,-.37,-.26,-.14,-.02,.1,.25,.42,.55,.68,.82,1.08,1.22],
  [-.82,-1.52,-1.38,-1.25,-1.12,-.78,-.65,-.52,-.38,-.25,-.12,.02,.14,.3,.43,.56,.68,.78],
  [-.92,-1.45,-1.32,-1.0,-.88,-.76,-.65,-.55,-.42,-.3,-.18,-.05,.08,.24,.35,.47,.58,1.0,1.3],
  [-1.01,-1.52,-1.38,-1.25,-1.1,-.98,-.85,-.7,-.6,-.48,-.34,-.22,-.1,.16,.27,.36,.47,.57,.98],
  [-1.10,-1.5,-1.35,-1.22,-1.1,-.97,-.84,-.72,-.47,-.35,-.2,-.08,.06,.18,.3,.46,.85,1.0],
  [-1.19,-1.55,-1.42,-1.3,-1.18,-1.02,-.88,-.73,-.58,-.46,-.33,-.2,-.1,.03,.15,.26,.37,.46,.9,1.0],
  [-1.28,-1.5,-1.3,-1.17,-.9,-.75,-.62,-.48,-.35,-.25,-.1,0,.12,.26,.36,.48,.92,1.02],
  [-1.37,-1.48,-1.32,-1.18,-1.03,-.65,-.5,-.38,-.26,-.17,-.02,.07,.18,.34,.98,1.1],
  [-1.46,-1.5,-1.38,-1.25,-1.12,-1,-.58,-.4,-.28,-.15,-.02,.14,.26,.92],
]

// the darker arm of the band toward the lower left
const lowerBandRows = [
  [-.5,-1.9,-1.8,-1.55,-1.42,-1.3,-.9,-.8],
  [-.6,-1.95,-1.85,-1.75,-1.4,-1.28,-.88,-.78],
  [-.7,-2.0,-1.88,-1.78,-1.68,-1.42,-1.28,-1.16,-1.08,-.85,-.74],
  [-.8,-2.02,-1.9,-1.8,-1.68,-1.55,-1.42,-1.3,-1.15,-1.0,-.88,-.76],
  [-.9,-2.0,-1.88,-1.78,-1.55,-1.42,-1.32,-1.1,-1.0,-.9,-.78],
  [-1.0,-1.95,-1.85,-1.58,-1.45,-1.33,-1.2,-1.1,-.98,-.88,-.76],
  [-1.1,-1.8,-1.68,-1.42,-1.3,-1.18,-1.05,-.95,-.85,-.75],
  [-1.2,-1.85,-1.75,-1.63,-1.5,-1.38,-1.25,-1.14,-.98,-.85,-.72],
  [-1.3,-1.72,-1.62,-1.48,-1.35,-1.22,-1.0,-.85,-.68],
  [-1.4,-1.95,-1.6,-1.48,-1.35,-1.22,-1.1,-.97,-.85,-.6],
  [-1.5,-2.0,-1.92,-1.6,-1.48,-1.38,-1.25,-1.1,-.95,-.8,-.65],
  [-1.58,-.82,-.68,-.52,-.38,-.25,-.08,.05,.2],
  [-1.6,-1.75,-1.65,-1.4,-1.25,-1.12],
  [-1.68,-.55,-.12,.02,.15],
  [-1.7,-1.95,-1.55,-1.42,-1.0,-.9,-.78,-.68,-.4,-.28,-.15],
  [-1.8,-2.2,-1.95,-1.82,-1.65,-1.4,-1.2,-1.08,-.95,-.82,-.45,-.3,-.2,0,.2],
  [-1.9,-2.35,-2.15,-1.88,-1.62,-1.45,-1.25,-.85,-.65,-.35,-.1],
  [-2.0,-2.5,-2.35,-2.0,-1.9,-1.55,-1.35,-.8,-.6,-.25],
  [-2.1,-2.3,-2.15,-1.78,-1.55,-1.4],
  [-2.2,-2.15,-1.7,-1.6],
]

// the darker arm of the band toward the upper right
const upperBandRows = [
  [2.1,1.05,1.25,1.65,1.85],
  [2.0,.95,1.1,1.38,1.55,1.65,2.2],
  [1.9,.45,.6,.85,1.1,1.42,1.58,1.85,2.15,2.28],
  [1.8,.6,.75,1.0,1.48,1.58,1.72,1.98,2.15],
  [1.7,.65,.95,1.08,1.5,1.72,1.9,2.08,2.4],
  [1.6,.75,.9,1.15,1.22,1.55,1.72,1.85,2.1,2.28,2.45],
  [1.5,.45,.65,1.05,1.15,1.4,1.58,1.68,1.9,2.05,2.3],
  [1.4,.7,.9,1.25,1.42,1.6,1.92,2.12,2.3],
  [1.3,.42,.55,.66,.95,1.3,1.42,1.62,1.75,1.9,2.0,2.22],
  [1.2,.7,.85,1.1,1.28,1.45,1.62,1.75,2.05],
  [1.1,.52,.65,.98,1.12,1.25,1.45,1.88],
  [1.0,.45,.6,.9,1.02,1.25,1.45,1.88,2.05,2.28],
  [.9,.5,.62,.88,1.0,1.25,1.82,2.18],
  [.8,.34,.8,.92,1.1,1.28,1.38,1.55,1.68,1.95,2.25],
  [.7,.45,.62,.85,1.05,1.2,1.62,1.7,2.0,2.28],
  [.6,.5,.8,1.05,1.15,1.45,1.65,1.88,2.08],
]

// ellipse outline; one extra point each end only steers the curve at the seam
const ellipseX = [5.13,4.74,4.03,3.04,1.84,.52,-.83,-2.13,-3.29,-4.22,-4.86,-5.17,-5.13,-4.74,-4.03,-3.04,-1.84,-.52,.83,2.13,3.29,4.22,4.86,5.17,5.13,4.74,4.03]
const ellipseY = [4.03,4.74,5.13,5.17,4.86,4.22,3.29,2.13,.83,-.52,-1.84,-3.04,-4.03,-4.74,-5.13,-5.17,-4.86,-4.22,-3.29,-2.13,-.83,.52,1.84,3.04,4.03,4.74,5.13]

const ink = "#262626"
const serif = '"Liberation Serif"'

const frameTicks = {
  id: "frameTicks",
  beforeDatasetsDraw(chart: any) {
    const { ctx, chartArea: a, scales } = chart
    ctx.save()
    ctx.strokeStyle = ink
    ctx.lineWidth = 3.5
    ctx.strokeRect(a.left, a.top, a.right - a.left, a.bottom - a.top)
    ctx.beginPath()
    xTicks.forEach((v) => {
      const px = scales.x.getPixelForValue(v)
      ctx.moveTo(px, a.top)
      ctx.lineTo(px, a.top + 15)
      ctx.moveTo(px, a.bottom)
      ctx.lineTo(px, a.bottom - 15)
    })
    yTicks.forEach((v) => {
      const py = scales.y.getPixelForValue(v)
      ctx.moveTo(a.left, py)
      ctx.lineTo(a.left + 16, py)
      ctx.moveTo(a.right, py)
      ctx.lineTo(a.right - 16, py)
    })
    ctx.stroke()
    ctx.restore()
  },
}

// stretched glyphs stand in for the wider latex math letters
function stretched(ctx: any, text: string, x: number, y: number, font: string, sx: number) {
  ctx.save()
  ctx.font = font
  ctx.translate(x, y)
  ctx.scale(sx, 1)
  ctx.fillText(text, 0, 0)
  ctx.restore()
}

const mathLabels = {
  id: "mathLabels",
  afterDraw(chart: any) {
    const { ctx } = chart
    ctx.save()
    ctx.fillStyle = ink
    ctx.textAlign = "left"
    ctx.textBaseline = "alphabetic"
    stretched(ctx, "x", 887, 1369, `italic 76px ${serif}`, 1.05)
    stretched(ctx, "1", 927, 1378, `50px ${serif}`, 1)

    ctx.translate(52, 638)
    ctx.rotate(-Math.PI / 2)
    stretched(ctx, "x", 0, 0, `italic 76px ${serif}`, 1.05)
    stretched(ctx, "2", 38, 9, `50px ${serif}`, 1)
    ctx.restore()

    ctx.save()
    ctx.fillStyle = "#111111"
    ctx.textAlign = "left"
    ctx.textBaseline = "alphabetic"
    stretched(ctx, "N", 1210, 1002, `italic 73px ${serif}`, 1.28)
    stretched(ctx, "N", 1270, 1013, `italic 54px ${serif}`, 1.25)
    stretched(ctx, "=", 1344, 1004, `72px ${serif}`, 1.22)
    stretched(ctx, "3000", 1423, 1004, `72px ${serif}`, 1)
    ctx.restore()
  },
}

export default function App() {
  const canvasRef = useRef<HTMLCanvasElement>(null)

  useEffect(() => {
    if (!canvasRef.current) return

    const rowPoints = [...coreRows, ...coreGapRows, ...lowerBandRows, ...upperBandRows].flatMap(([y, ...xs]) => xs.map((x) => ({ x, y })))
    const listPoints = [...squareCloud, ...upperLeftCloud, ...upperRightCloud, ...lowerRightCloud, ...lowerLeftCloud].map(([x, y]) => ({ x, y }))
    const lastEllipse = ellipseX.length - 1

    const chart = new Chart(canvasRef.current, {
      type: "scatter",
      data: {
        datasets: [
          {
            data: [...listPoints, ...rowPoints],
            pointRadius: 5.2,
            pointBackgroundColor: "#000000",
            pointBorderWidth: 0,
            showLine: false,
            clip: false,
          },
          {
            data: ellipseX.map((x, i) => ({ x, y: ellipseY[i] })),
            showLine: true,
            pointRadius: 0,
            borderColor: "#000000",
            borderWidth: 6.5,
            tension: 0.335,
            clip: false,
            segment: {
              // hide the two steering segments so the outline closes without a double stroke
              borderColor: (c: any) => (c.p0DataIndex === 0 || c.p1DataIndex === lastEllipse ? "rgba(0,0,0,0)" : undefined),
            },
          },
        ],
      },
      options: {
        responsive: false,
        animation: false,
        devicePixelRatio: 1,
        layout: { padding: { top: 18.3, right: 22.5, left: 0, bottom: 0 } },
        plugins: { legend: { display: false }, tooltip: { enabled: false } },
        scales: {
          x: {
            type: "linear",
            min: -8,
            max: 7.8,
            afterBuildTicks: (s: any) => {
              s.ticks = xTicks.map((value) => ({ value }))
            },
            afterFit: (s: any) => {
              s.height = 205.8
              s.paddingLeft = 0
              s.paddingRight = 0
            },
            grid: { display: false, drawTicks: false },
            border: { display: false },
            ticks: {
              padding: 31,
              maxRotation: 0,
              autoSkip: false,
              color: ink,
              font: { family: "Liberation Serif", size: 69 },
              callback: (v: any) => String(v),
            },
          },
          y: {
            type: "linear",
            min: -6.16,
            max: 6.27,
            afterBuildTicks: (s: any) => {
              s.ticks = yTicks.map((value) => ({ value }))
            },
            afterFit: (s: any) => {
              s.width = 178.8
              s.paddingTop = 0
              s.paddingBottom = 0
            },
            grid: { display: false, drawTicks: false },
            border: { display: false },
            ticks: {
              padding: 31,
              labelOffset: 3,
              autoSkip: false,
              color: ink,
              font: { family: "Liberation Serif", size: 69 },
              callback: (v: any) => String(v),
            },
          },
        },
      },
      plugins: [frameTicks, mathLabels],
    } as any)

    return () => chart.destroy()
  }, [])

  return <canvas ref={canvasRef} width={1684} height={1395} style={{ position: "absolute", left: 0, top: 0 }} />
}
